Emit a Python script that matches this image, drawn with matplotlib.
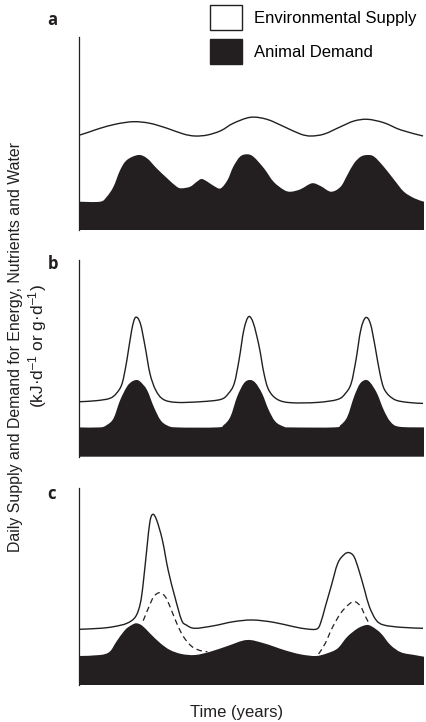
import matplotlib
matplotlib.use("Agg")
import numpy as np
import matplotlib.pyplot as plt
from matplotlib.patches import Patch, PathPatch
from matplotlib.path import Path

plt.rcParams['font.family'] = ['Liberation Sans', 'DejaVu Sans']
plt.rcParams['mathtext.fontset'] = 'custom'
plt.rcParams['mathtext.rm'] = 'Liberation Sans'
plt.rcParams['mathtext.it'] = 'Liberation Sans:italic'
plt.rcParams['mathtext.bf'] = 'Liberation Sans:bold'

# panel a (time in months, level in arbitrary units)
a_supply_t = [0.1, 1.15, 2.2, 3.9, 5.7, 7.4, 9.2, 10.9, 12.1, 13.4, 14.8, 16.1, 17.9,
              19.6, 21.4, 23.1, 24.2, 25.6, 27.3, 28.7, 30.1, 31.8, 33.6, 35.9]
a_supply = [95, 98.3, 101.7, 106, 108.3, 106.7, 101.7, 96, 94, 95, 99.3, 106.7, 112.7,
            110.7, 103.3, 96, 94, 96, 103.3, 109, 110.7, 107.3, 100, 94]
a_demand_t = [0, 2.2, 2.9, 3.6, 4.3, 5.0, 6.2, 7.1, 8.1, 9.2, 10.2, 10.7, 11.6, 12.3, 12.8,
              13.4, 14.2, 14.8, 15.5, 16.1, 16.8, 17.5, 18.2, 19.3, 20.3, 21.4, 22.1, 23.1,
              24.3, 25.2, 26.3, 27.3, 28.0, 28.7, 29.4, 30.1, 30.8, 31.8, 32.9, 33.9, 35.0, 36.0]
a_demand = [28.3, 28.3, 33.3, 43.3, 60, 70, 75, 71.7, 61.7, 51.7, 43.3, 41.7, 43.3, 48.3, 51,
            48.3, 43.3, 41.7, 50, 63.3, 73.3, 75.7, 73.3, 61.7, 48.3, 40, 38.3, 40.7,
            46.7, 44, 38.3, 43.3, 55, 66.7, 73.3, 75, 73.3, 63.3, 50, 38.3, 31.7, 28.3]

# panel b
b_supply_t = [0.1, 1.8, 3.2, 3.9, 4.5, 5.0, 5.5, 5.9, 6.4, 6.9, 7.4, 8.0, 8.8, 10.2, 12.7,
              14.8, 15.6, 16.2, 16.7, 17.2, 17.7, 18.2, 18.8, 19.3, 19.8, 20.7, 22.1, 24.9,
              27.0, 27.8, 28.4, 28.9, 29.4, 29.9, 30.4, 30.9, 31.4, 31.9, 32.9, 34.3, 35.9]
b_supply = [55, 56, 58.3, 63.3, 73.3, 96.7, 126.7, 139.3, 133.3, 110, 83.3, 66.7, 57.3, 54.3, 55,
            57.3, 63.3, 73.3, 96.7, 126.7, 140, 133.3, 110, 83.3, 66.7, 57.3, 54, 54.3,
            57.3, 63.3, 73.3, 96.7, 126.7, 139, 133.3, 110, 83.3, 66.7, 57.3, 54.3, 53.3]
b_demand_t = [0, 2.2, 2.9, 3.6, 4.3, 5.0, 5.5, 6.0, 6.4, 7.1, 7.8, 8.5, 9.2, 10.2,
              14.4, 15.1, 15.8, 16.5, 17.2, 17.8, 18.4, 19.1, 19.8, 20.5, 21.4, 22.1,
              26.6, 27.3, 28.0, 28.7, 29.3, 29.9, 30.4, 31.1, 31.8, 32.5, 33.4, 36.0]
b_demand = [29.3, 29.3, 31.7, 38.3, 56.7, 70, 75, 76.7, 75, 66.7, 50, 36.7, 31.3, 29.3,
            29.3, 31.7, 40, 60, 73.3, 76.7, 74, 63.3, 46.7, 35, 30, 29.3,
            29.3, 31.7, 40, 60, 72.7, 76.7, 74, 63.3, 46.7, 35, 30, 29.3]

# panel c
c_supply_t = [0.1, 2.2, 3.6, 5.0, 5.9, 6.4, 6.7, 7.1, 7.4, 7.7, 8.1, 8.7, 9.3, 10.0, 10.7,
              11.2, 12.1, 14.1, 16.1, 18.1, 20.3, 22.4, 23.8, 24.8, 25.2, 25.7, 26.3, 27.0,
              27.7, 28.2, 28.7, 29.2, 29.8, 30.3, 31.0, 31.8, 33.6, 35.9]
c_supply = [55.7, 56.7, 58.3, 61.7, 68.3, 81.7, 101.7, 138.3, 163.3, 170.7, 165, 145, 115, 88.3, 65,
            60, 56.7, 59.3, 63.3, 65, 62.7, 58.3, 56, 56, 61.7, 78.3, 98.3, 121.7,
            130.7, 132.3, 128.3, 115, 95, 78.3, 65, 60, 57.7, 56.7]
c_dash1_t = [6.7, 7.3, 7.8, 8.4, 9.0, 9.5, 10.2, 10.9, 11.8, 12.7, 13.4]
c_dash1 = [64.3, 78.3, 88.3, 92.3, 88.3, 78.3, 61.7, 48.3, 38.3, 34.3, 33.3]
c_dash2_t = [25.0, 25.7, 26.4, 27.3, 28.2, 28.8, 29.4, 29.9, 30.3]
c_dash2 = [31, 41.7, 56.7, 71.7, 81, 83.3, 78.3, 68.3, 61]
c_demand_t = [0, 2.2, 3.2, 3.9, 4.8, 5.5, 6.0, 6.6, 7.4, 8.5, 9.5, 10.7, 12.1, 13.7, 15.5,
              17.5, 19.3, 21.4, 23.1, 24.7, 25.9, 27.0, 28.0, 29.1, 30.0, 30.6, 31.5,
              32.5, 33.6, 35.0, 36.0]
c_demand = [29, 30, 33.3, 43.3, 55, 60, 61.7, 59.3, 51.7, 41.7, 35, 31, 30, 33.3, 39,
            45, 41.7, 35, 30.7, 29, 31.7, 36.7, 48.3, 56.7, 60, 58.3, 51.7,
            40, 32.7, 30, 28.3]

panel_labels = ['a', 'b', 'c']
legend_labels = ['Environmental Supply', 'Animal Demand']
ylabel_1 = 'Daily Supply and Demand for Energy, Nutrients and Water'
ylabel_2 = '(kJ·d$^{–1}$ or g·d$^{–1}$)'
xlabel = 'Time (years)'

ink = '#231f20'


def curve(t, v, fill=False):
    # smooth bezier path through the read points (drawn by matplotlib's Path)
    p = np.column_stack([t, v]).astype(float)
    verts, codes = [p[0]], [Path.MOVETO]
    for i in range(len(p) - 1):
        p0 = p[i - 1] if i > 0 else p[i]
        p3 = p[i + 2] if i + 2 < len(p) else p[i + 1]
        verts += [p[i] + (p[i + 1] - p0) / 6, p[i + 1] - (p3 - p[i]) / 6, p[i + 1]]
        codes += [Path.CURVE4] * 3
    if fill:
        verts += [(t[-1], 0), (t[0], 0), p[0]]
        codes += [Path.LINETO, Path.LINETO, Path.CLOSEPOLY]
    return Path(verts, codes)


fig = plt.figure(figsize=(4.26, 7.22), dpi=100)

W, H = 426, 722
boxes = [(79, 36.7, 424, 230, 193.3), (79, 260, 424, 456.7, 196.7), (79, 488.3, 424, 685, 196.7)]
panels = [
    (a_supply_t, a_supply, a_demand_t, a_demand, []),
    (b_supply_t, b_supply, b_demand_t, b_demand, []),
    (c_supply_t, c_supply, c_demand_t, c_demand, [(c_dash1_t, c_dash1), (c_dash2_t, c_dash2)]),
]
label_pos = [(52, 20), (53, 264), (52, 494)]

for (x0, y0, x1, y1, top), (st, sv, dt, dv, dashes), lab, (lx, ly) in zip(boxes, panels, panel_labels, label_pos):
    ax = fig.add_axes([x0 / W, 1 - y1 / H, (x1 - x0) / W, (y1 - y0) / H])
    ax.add_patch(PathPatch(curve(dt, dv, fill=True), facecolor=ink, lw=0))
    ax.add_patch(PathPatch(curve(st, sv), facecolor='none', edgecolor=ink, lw=1.0))
    for t, v in dashes:
        ax.add_patch(PathPatch(curve(t, v), facecolor='none', edgecolor=ink, lw=0.9,
                               ls=(0, (4.5, 3))))
    ax.set_xlim(0, 36)
    ax.set_ylim(0, top)
    for s in ['top', 'right', 'bottom']:
        ax.spines[s].set_visible(False)
    ax.spines['left'].set_linewidth(0.9)
    ax.spines['left'].set_color(ink)
    ax.set_xticks([])
    ax.set_yticks([])
    fig.text(lx / W, 1 - ly / H, lab, fontsize=12, fontweight='bold', family='Open Sans',
             ha='center', va='center', color=ink)

handles = [Patch(facecolor='white', edgecolor=ink, lw=1.0), Patch(facecolor=ink, edgecolor=ink)]
fig.legend(handles, legend_labels, loc='upper left', bbox_to_anchor=(210 / W, 1 - 5 / H),
           frameon=False, fontsize=12, handlelength=1.9, handleheight=1.93,
           handletextpad=0.75, labelspacing=0.55, borderpad=0, borderaxespad=0)

fig.text(16 / W, 1 - 347 / H, ylabel_1, rotation=90, fontsize=11.4, ha='center', va='center', color=ink)
fig.text(38 / W, 1 - 346 / H, ylabel_2, rotation=90, fontsize=12.5, ha='center', va='center', color=ink)
fig.text(237 / W, 1 - 712 / H, xlabel, fontsize=12, ha='center', va='center', color=ink)

fig.savefig('out.png', dpi=100)
